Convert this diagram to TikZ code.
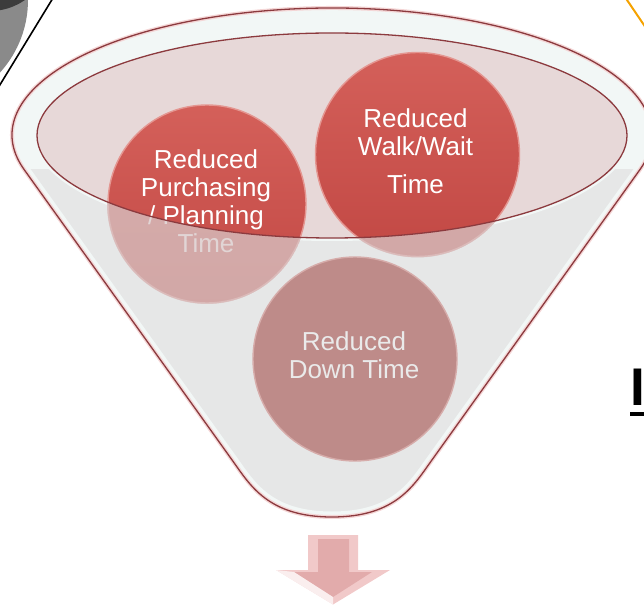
\documentclass[tikz,border=0pt]{standalone}
\usepackage{fontspec}
\setmainfont{Liberation Sans}
\definecolor{conegray}{RGB}{230,231,231}
\definecolor{rimlight}{RGB}{242,247,246}
\definecolor{innerpink}{RGB}{231,216,216}
\definecolor{edgered}{RGB}{140,58,62}
\definecolor{halopink}{RGB}{244,214,214}
\definecolor{redtop}{RGB}{212,96,90}
\definecolor{redbot}{RGB}{194,72,68}
\definecolor{ringred}{RGB}{228,150,145}
\definecolor{fadeov}{RGB}{216,200,200}
\definecolor{downfill}{RGB}{190,139,137}
\definecolor{ringdown}{RGB}{214,172,170}
\definecolor{downtext}{RGB}{234,234,234}
\definecolor{arrowout}{RGB}{241,201,201}
\definecolor{arrowin}{RGB}{226,171,171}
\definecolor{grayA}{RGB}{138,138,138}
\definecolor{grayB}{RGB}{60,60,60}
\definecolor{orangeA}{RGB}{245,162,0}
\def\funnelpath{(24.3,435.2) arc[start angle=195.9, end angle=-15.9, x radius=320pt, y radius=127pt] -- (431.5,144.4) .. controls (414,120) and (396,88) .. (332,88) .. controls (268,88) and (250,120) .. (232.5,144.4) -- cycle}
\def\innerellipse{(332,469.5) ellipse[x radius=295pt, y radius=102.5pt]}
\begin{document}
\begin{tikzpicture}[x=1pt,y=1pt,
  funneledge/.style={draw=edgered, line width=1.3pt},
  ballred/.style={circle, inner sep=0pt, top color=redtop, bottom color=redbot, draw=ringred, line width=1.4pt},
  balldown/.style={circle, inner sep=0pt, fill=downfill, draw=ringdown, line width=1.4pt},
  balltext/.style={align=center, font=\fontsize{26}{28}\selectfont, text=white, inner sep=0pt},
]
\useasboundingbox (0,0) rectangle (644,605);
\begin{scope}
\clip (0,0) rectangle (644,605);
% corner decorations
\fill[grayA] (-80,605) circle[radius=108pt];
\fill[grayB] (-10,655) circle[radius=61pt];
\draw[black, line width=1.6pt] (53,607) -- (-2,517);
\draw[orangeA, line width=2pt] (624,609.4) -- (646,577);
% funnel body
\fill[conegray] \funnelpath;
\begin{scope}
\clip (0,436) rectangle (644,605);
\fill[rimlight, even odd rule] (332,470) ellipse[x radius=320pt, y radius=127pt] \innerellipse;
\end{scope}
\begin{scope}
\clip \funnelpath;
\draw[rimlight, line width=11pt] \funnelpath;
\end{scope}
\draw[rimlight, line width=6pt] \innerellipse;
\fill[innerpink] \innerellipse;
% circles behind the glass
\node[ballred, minimum size=198pt] (c1) at (207,401) {};
\node[ballred, minimum size=204pt] (c2) at (417.5,450.5) {};
\node[balltext] (t1) at (206,404) {Reduced\\Purchasing\\/ Planning\\Time};
\node[balltext] (t2) at (415.5,454) {Reduced\\Walk/Wait\\[10pt]Time};
% front glass over lower parts of the circles
\begin{scope}
\clip (37,469.5) arc[start angle=180, end angle=360, x radius=295pt, y radius=102.5pt] -- (644,469.5) -- (644,0) -- (0,0) -- (0,469.5) -- cycle;
\begin{scope}
\clip (c1.center) circle[radius=100pt];
\fill[fadeov, fill opacity=0.75] (c1.center) circle[radius=100pt];
\end{scope}
\begin{scope}
\clip (c2.center) circle[radius=103pt];
\fill[fadeov, fill opacity=0.75] (c2.center) circle[radius=103pt];
\end{scope}
\end{scope}
% lower circle
\node[balldown, minimum size=204pt] (c3) at (355,246) {};
\node[balltext, text=downtext] (t3) at (354,250) {Reduced\\Down Time};
% outlines
\draw[funneledge] \innerellipse;
\draw[halopink, line width=4pt] \funnelpath;
\draw[funneledge] \funnelpath;
% arrow
\fill[arrowout] (308,70) -- (358,70) -- (358,35) -- (390,35) -- (333,0.5) -- (276,35) -- (308,35) -- cycle;
\fill[arrowin] (318,66) -- (349,66) -- (349,33) -- (372,33) -- (333,8) -- (294,33) -- (318,33) -- cycle;
\fill[white, fill opacity=0.7] (276,35) -- (294,33) -- (333,8) -- (333,0.5) -- cycle;
% partial heading letter
\node[anchor=base west, inner sep=0pt, font=\fontsize{53}{53}\selectfont\bfseries] (ichar) at (630,200) {\rlap{\rule[-11pt]{16pt}{4pt}}I};
\end{scope}
\end{tikzpicture}
\end{document}
